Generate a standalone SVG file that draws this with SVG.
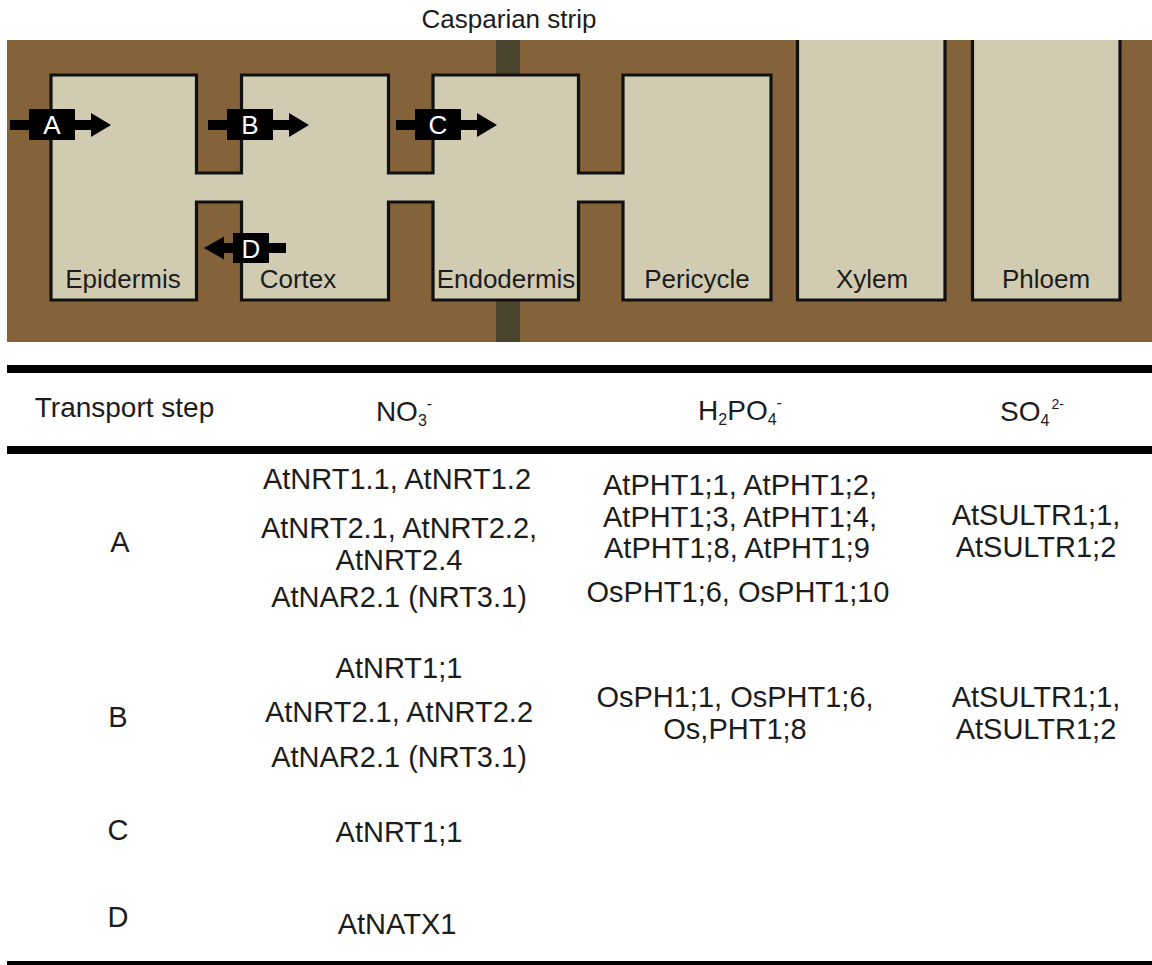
<svg xmlns="http://www.w3.org/2000/svg" width="1152" height="965" viewBox="0 0 1152 965">
<style>
.t{font-family:"Liberation Sans",Arial,sans-serif;fill:#1c1c1c}
.lbl{font-size:26px;text-anchor:middle}
.hd{font-size:28px;text-anchor:middle}
.cell{font-size:29px;text-anchor:middle}
.tr{font-family:"Liberation Sans",Arial,sans-serif;font-size:26px;fill:#ffffff;text-anchor:middle}
.box{fill:#d1ccb1;stroke:#111;stroke-width:3.2;stroke-linejoin:miter}
.rule{fill:#000}
</style>
<defs>
<g id="fwd">
<rect x="-19" y="120" width="81" height="10" fill="#000"/>
<polygon points="62,113 82,125 62,137" fill="#000"/>
<rect x="0" y="109" width="46" height="31" fill="#000"/>
</g>
</defs>
<rect width="1152" height="965" fill="#fff"/>
<g id="tissue">
<rect x="7" y="40" width="1145" height="302" fill="#84623a"/>
<rect x="496" y="40" width="24" height="302" fill="#4b4530"/>
</g>
<g id="symplast">
<path class="box" d="M51,75 H196.5 V173 H241.5 V75 H388.5 V173 H433 V75 H578.5 V173 H623 V75 H771 V300 H623 V202 H578.5 V300 H433 V202 H388.5 V300 H241.5 V202 H196.5 V300 H51 Z"/>
</g>
<g id="epidermis"><text class="t lbl" x="123" y="288">Epidermis</text></g>
<g id="cortex"><text class="t lbl" x="298" y="288">Cortex</text></g>
<g id="endodermis"><text class="t lbl" x="506" y="288">Endodermis</text></g>
<g id="pericycle"><text class="t lbl" x="697" y="288">Pericycle</text></g>
<g id="xylem"><path class="box" d="M797.5,40 V300 H945 V40"/><text class="t lbl" x="872" y="288">Xylem</text></g>
<g id="phloem"><path class="box" d="M972.5,40 V300 H1120 V40"/><text class="t lbl" x="1046" y="288">Phloem</text></g>
<g id="casparian-label"><text class="t lbl" x="509" y="28">Casparian strip</text></g>
<g id="transporters">
<use href="#fwd" transform="translate(29,0)"/>
<use href="#fwd" transform="translate(227,0)"/>
<use href="#fwd" transform="translate(415,0)"/>
<rect x="223" y="243" width="63" height="10" fill="#000"/>
<polygon points="224,236.5 204,248 224,259.5" fill="#000"/>
<rect x="233" y="233" width="36" height="30" fill="#000"/>
<text class="tr" x="52" y="134">A</text>
<text class="tr" x="250" y="134">B</text>
<text class="tr" x="438" y="134">C</text>
<text class="tr" x="251" y="258">D</text>
</g>
<g id="table">
<rect class="rule" x="7" y="365" width="1145" height="8"/>
<rect class="rule" x="7" y="446" width="1145" height="8"/>
<rect class="rule" x="7" y="961" width="1145" height="4"/>
<text class="t hd" x="124.5" y="417">Transport step</text>
<text class="t hd" x="404" y="421">NO<tspan font-size="16" dy="5">3</tspan><tspan font-size="16" dy="-17">-</tspan></text>
<text class="t hd" x="740" y="420">H<tspan font-size="16" dy="5">2</tspan><tspan dy="-5">PO</tspan><tspan font-size="16" dy="5">4</tspan><tspan font-size="16" dy="-17">-</tspan></text>
<text class="t hd" x="1032" y="421">SO<tspan font-size="16" dy="5">4</tspan><tspan font-size="14" dy="-17" dx="2">2-</tspan></text>

<text class="t cell" x="120" y="552">A</text>
<text class="t cell" x="397" y="489">AtNRT1.1, AtNRT1.2</text>
<text class="t cell" x="399" y="538">AtNRT2.1, AtNRT2.2,</text>
<text class="t cell" x="399" y="570">AtNRT2.4</text>
<text class="t cell" x="399" y="607">AtNAR2.1 (NRT3.1)</text>
<text class="t cell" x="740" y="495">AtPHT1;1, AtPHT1;2,</text>
<text class="t cell" x="740" y="527">AtPHT1;3, AtPHT1;4,</text>
<text class="t cell" x="737" y="558">AtPHT1;8, AtPHT1;9</text>
<text class="t cell" x="738" y="602">OsPHT1;6, OsPHT1;10</text>
<text class="t cell" x="1036" y="525">AtSULTR1;1,</text>
<text class="t cell" x="1036" y="557">AtSULTR1;2</text>

<text class="t cell" x="118" y="727">B</text>
<text class="t cell" x="399" y="678">AtNRT1;1</text>
<text class="t cell" x="399" y="722">AtNRT2.1, AtNRT2.2</text>
<text class="t cell" x="399" y="767">AtNAR2.1 (NRT3.1)</text>
<text class="t cell" x="735" y="707">OsPH1;1, OsPHT1;6,</text>
<text class="t cell" x="735" y="739">Os,PHT1;8</text>
<text class="t cell" x="1036" y="707">AtSULTR1;1,</text>
<text class="t cell" x="1036" y="739">AtSULTR1;2</text>

<text class="t cell" x="118" y="840">C</text>
<text class="t cell" x="399" y="842">AtNRT1;1</text>

<text class="t cell" x="118" y="927">D</text>
<text class="t cell" x="397" y="934">AtNATX1</text>
</g>
</svg>
